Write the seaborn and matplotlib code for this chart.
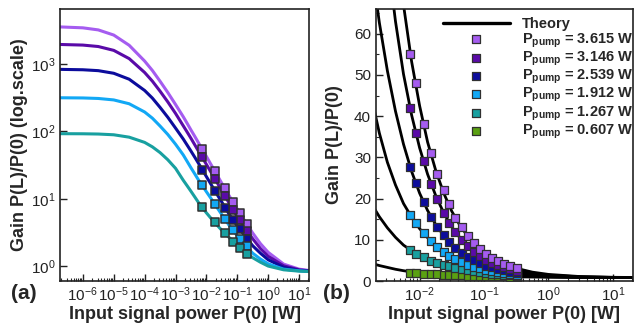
import numpy as np
import pandas as pd
import matplotlib
matplotlib.use('Agg')
import matplotlib.pyplot as plt
import seaborn as sns
from matplotlib.ticker import LogLocator, MultipleLocator, NullLocator, NullFormatter

# pump powers and colours
pumps = ['3.615', '3.146', '2.539', '1.912', '1.267', '0.607']
colors = ['#a55cf0', '#5a0aa8', '#0c0c9c', '#12a8f5', '#18a0a0', '#5aa012']

# theory curves, gain at these input powers [W]
p_theory = [1.86e-7, 1e-6, 3.16e-6, 1e-5, 3.16e-5, 1e-4, 1.78e-4, 3.16e-4, 5.62e-4, 1e-3,
            1.78e-3, 2.37e-3, 3.16e-3, 4.22e-3, 5.62e-3, 7.5e-3, 1e-2, 1.33e-2,
            1.78e-2, 2.37e-2, 3.16e-2, 4.22e-2, 5.62e-2, 7.5e-2, 0.1, 0.133,
            0.178, 0.237, 0.316, 0.562, 1.0, 3.16, 10.0, 21.0]
th_3615 = [3555, 3447, 3210, 2692, 1898, 1106, 802, 555, 378, 251,
           165, 132, 105, 84, 67, 53.3, 42.5, 33.7, 26.8, 21.3, 16.9, 13.5, 10.8,
           8.7, 7.0, 5.7, 4.62, 3.78, 3.09, 2.15, 1.6, 1.07, 0.9, 0.86]
th_3146 = [1951, 1911, 1819, 1595, 1203, 749, 557, 395, 274, 185,
           121, 98, 79, 63, 50.2, 40.3, 32.3, 25.9, 20.7, 16.5, 13.1, 10.5, 8.4,
           6.74, 5.41, 4.46, 3.67, 3.05, 2.54, 1.82, 1.4, 1.01, 0.88, 0.85]
th_2539 = [833, 822, 797, 729, 595, 405, 312, 227, 162, 112,
           77, 62.7, 51, 41.2, 33.2, 26.6, 21.3, 17.1, 13.7, 11.0, 8.9, 7.16, 5.76,
           4.76, 3.94, 3.31, 2.79, 2.36, 2.0, 1.55, 1.24, 0.96, 0.86, 0.84]
th_1912 = [315.5, 313.5, 308, 293, 257, 194, 157, 120, 90, 64.5,
           44.7, 35.9, 28.8, 23.3, 18.8, 15.5, 12.7, 10.5, 8.6, 7.06, 5.8, 4.78, 3.94,
           3.33, 2.82, 2.4, 2.04, 1.78, 1.55, 1.27, 1.08, 0.9, 0.85, 0.83]
th_1267 = [92.4, 92.1, 91.3, 89, 82, 68.6, 58.9, 48.4, 37.9, 28.3,
           18.8, 15.6, 12.9, 10.6, 8.71, 7.33, 6.17, 5.28, 4.52, 3.92, 3.39, 2.98, 2.62,
           2.31, 2.04, 1.82, 1.62, 1.47, 1.33, 1.14, 1.0, 0.88, 0.84, 0.83]
# 0.607 W curve only appears in panel (b), from 1.78e-3 W on
th_0607 = [4.3, 3.75, 3.3, 2.85, 2.5, 2.2, 1.95, 1.78, 1.65, 1.54, 1.45, 1.37,
           1.3, 1.25, 1.2, 1.15, 1.1, 1.06, 1.02, 0.96, 0.92, 0.86, 0.83, 0.82]

# measured points, panel (a)
p_meas_a = [0.00705, 0.0186, 0.041, 0.074, 0.125, 0.211]
meas_a_3615 = [54.7, 25.8, 14.6, 9.0, 6.07, 4.2]
meas_a_3146 = [41.6, 19.4, 11.0, 6.8, 4.8, 3.3]
meas_a_2539 = [26.7, 13.0, 7.3, 4.8, 3.55, 2.5]
meas_a_1912 = [15.8, 8.3, 5.0, 3.46, 2.54, 1.98]
meas_a_1267 = [7.6, 4.55, 3.06, 2.3, 1.87, 1.51]

# measured points, panel (b)
p_meas_b = [0.0071, 0.0087, 0.0115, 0.015, 0.0188, 0.0236, 0.029, 0.036, 0.045,
            0.056, 0.070, 0.087, 0.108, 0.134, 0.166, 0.206, 0.255, 0.32]
meas_b_3615 = [55, 48, 38, 31, 26, 22, 18.7, 15.3, 13.0, 10.9, 9.2, 7.8, 6.6, 5.7,
               4.86, 4.2, 3.6, 3.07]
meas_b_3146 = [42, 35.9, 29, 23.6, 19.8, 16.5, 14.0, 11.9, 10.0, 8.4, 7.1, 6.0,
               5.14, 4.45, 3.85, 3.34, 2.91, 2.52]
meas_b_2539 = [27.6, 23.7, 19.1, 15.6, 13.2, 11.1, 9.5, 8.07, 6.8, 5.78, 4.98, 4.32,
               3.76, 3.3, 2.9, 2.56, 2.26, 1.98]
meas_b_1912 = [16.1, 14.0, 11.6, 9.66, 8.28, 7.08, 6.15, 5.32, 4.58, 3.95, 3.47,
               3.05, 2.7, 2.39, 2.12, 1.9, 1.72, 1.55]
meas_b_1267 = [7.57, 6.64, 5.71, 4.95, 4.4, 3.92, 3.54, 3.2, 2.89, 2.62, 2.38, 2.17,
               1.98, 1.82, 1.67, 1.54, 1.43, 1.33]
meas_b_0607 = [2.05, 1.9, 1.78, 1.68, 1.6, 1.53, 1.47, 1.41, 1.36, 1.32, 1.27, 1.23,
               1.2, 1.17, 1.14, 1.11, 1.08, 1.05]

# tick positions
xticks_a = [1e-6, 1e-5, 1e-4, 1e-3, 1e-2, 1e-1, 1e0, 1e1]
yticks_a = [1e0, 1e1, 1e2, 1e3]
xticks_b = [1e-2, 1e-1, 1e0, 1e1]

theory = [th_3615, th_3146, th_2539, th_1912, th_1267]
meas_a = [meas_a_3615, meas_a_3146, meas_a_2539, meas_a_1912, meas_a_1267]
meas_b = [meas_b_3615, meas_b_3146, meas_b_2539, meas_b_1912, meas_b_1267, meas_b_0607]

sns.set_style('ticks')
plt.rcParams['font.family'] = ['Liberation Sans', 'DejaVu Sans']
plt.rcParams['mathtext.fontset'] = 'custom'
plt.rcParams['mathtext.rm'] = 'Liberation Sans'
plt.rcParams['mathtext.bf'] = 'Liberation Sans:bold'
plt.rcParams['mathtext.it'] = 'Liberation Sans:italic'
plt.rcParams['axes.linewidth'] = 1.2
plt.rcParams['axes.edgecolor'] = '#222222'

fig = plt.figure(figsize=(6.34, 3.24), dpi=100)
ax1 = fig.add_axes([0.0951, 0.1327, 0.3923, 0.8395])
ax2 = fig.add_axes([0.593, 0.1327, 0.4054, 0.8395])

# ---- panel (a): log-log
for k in range(5):
    sns.lineplot(x=p_theory, y=theory[k], color=colors[k], lw=2.2, ax=ax1,
                 errorbar=None, zorder=2)
for k in range(5):
    sns.scatterplot(x=p_meas_a, y=meas_a[k], marker='s', s=38, color=colors[k],
                    edgecolor='#303030', linewidth=1.1, ax=ax1, zorder=3)

ax1.set_xscale('log')
ax1.set_yscale('log')
ax1.set_xlim(1.86e-7, 21)
ax1.set_ylim(0.6, 6560)
ax1.set_xticks(xticks_a)
ax1.set_yticks(yticks_a)
ax1.xaxis.set_minor_locator(LogLocator(base=10, subs=np.arange(2, 10), numticks=100))
ax1.xaxis.set_minor_formatter(NullFormatter())
ax1.yaxis.set_minor_locator(NullLocator())
ax1.set_xlabel('Input signal power P(0) [W]', fontsize=13, fontweight='bold', labelpad=1)
ax1.set_ylabel('Gain P(L)/P(0) (log.scale)', fontsize=13, fontweight='bold', labelpad=2)

# ---- panel (b): log-x, linear gain
n0 = 10
p_b = p_theory[n0:]
for k in range(5):
    sns.lineplot(x=p_b, y=theory[k][n0:], color='black', lw=2.0, ax=ax2,
                 errorbar=None, zorder=2)
sns.lineplot(x=p_b, y=th_0607, color='black', lw=2.0, ax=ax2, errorbar=None, zorder=2)
for k in range(5, -1, -1):
    sns.scatterplot(x=p_meas_b, y=meas_b[k], marker='s', s=26, color=colors[k],
                    edgecolor='#303030', linewidth=0.9, ax=ax2, zorder=3,
                    label=r'$\mathbf{P_{pump}}$ = ' + pumps[k] + ' W')

ax2.set_xscale('log')
ax2.set_xlim(2.1e-3, 20.5)
ax2.set_ylim(0, 66)
ax2.set_xticks(xticks_b)
ax2.xaxis.set_minor_locator(LogLocator(base=10, subs=np.arange(2, 10), numticks=100))
ax2.xaxis.set_minor_formatter(NullFormatter())
ax2.yaxis.set_major_locator(MultipleLocator(10))
ax2.yaxis.set_minor_locator(MultipleLocator(5))
ax2.set_xlabel('Input signal power P(0) [W]', fontsize=13, fontweight='bold', labelpad=1)
ax2.set_ylabel('Gain P(L)/P(0)', fontsize=13, fontweight='bold', labelpad=8)

for ax in (ax1, ax2):
    ax.tick_params(which='major', direction='in', length=5, width=1, labelsize=11,
                   pad=3.5, top=False, right=False, colors='#222222')
    ax.tick_params(which='minor', direction='in', length=2.5, width=0.8,
                   top=False, right=False)
    for s in ax.spines.values():
        s.set_visible(True)

# legend: Theory line then the six pump powers
line_h = ax2.lines[0]
sc_h = ax2.collections[::-1]
labels = ['Theory'] + [r'$\mathbf{P_{pump}}$ = ' + p + ' W' for p in pumps]
leg = ax2.legend([line_h] + list(sc_h), labels, loc='upper right',
                 bbox_to_anchor=(1.005, 0.975), frameon=False,
                 prop={'weight': 'bold', 'size': 10.5}, handlelength=4.6,
                 handletextpad=0.8, labelspacing=0.0, borderaxespad=0.0, borderpad=0.1)
leg.legend_handles[0].set_linewidth(2.4)

fig.text(0.018, 0.095, '(a)', fontsize=15, fontweight='bold', va='center')
fig.text(0.51, 0.095, '(b)', fontsize=15, fontweight='bold', va='center')

fig.savefig('out.png', dpi=100)
